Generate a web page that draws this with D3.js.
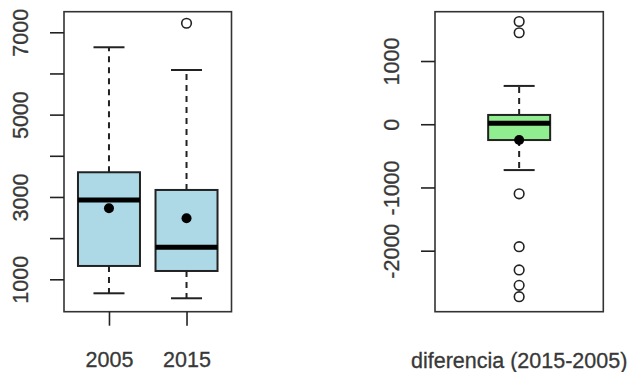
<!DOCTYPE html>
<html>
<head>
<meta charset="utf-8">
<script src="https://cdn.jsdelivr.net/npm/d3@7"></script>
<style>
  html, body { margin: 0; padding: 0; background: #fff; }
  svg { display: block; font-family: "Liberation Sans", Arial, sans-serif; }
</style>
</head>
<body>
<svg id="chart" width="628" height="372"></svg>
<script>
// Yearly values: box summary per year
const years       = ["2005", "2015"];
const whiskerLow  = [660, 539];
const q1          = [1324, 1202];
const medians     = [2927, 1778];
const q3          = [3600, 3170];
const whiskerHigh = [6636, 6084];
const means       = [2725, 2482];
const outliers    = [[], [7219]];
const yearTicks   = [1000, 2000, 3000, 4000, 5000, 6000, 7000];

// Difference 2015 - 2005
const diffLabel       = "diferencia (2015-2005)";
const diffWhiskerLow  = -725;
const diffQ1          = -250;
const diffMedian      = 15;
const diffQ3          = 147;
const diffWhiskerHigh = 606;
const diffMean        = -248;
const diffOutliers    = [1625, 1447, -1100, -1937, -2305, -2548, -2728];
const diffTicks       = [-2000, -1000, 0, 1000];

const svg = d3.select("#chart");
const plotTop = 11.7, plotBottom = 311.7;
const boxW = 62;
const tickLen = 14;
const fontSize = "21.5px";
const textCol = "#383838";
const lineCol = "#222";

function styleText(sel) {
  sel.attr("fill", textCol)
    .attr("stroke", textCol).attr("stroke-width", 0.3)
    .style("font-size", fontSize)
    .style("font-family", "'Liberation Sans', Arial, sans-serif");
}

function drawBox(g, cx, s, d, fill) {
  // dashed whiskers
  g.append("line").attr("x1", cx).attr("x2", cx)
    .attr("y1", s(d.q3)).attr("y2", s(d.hi))
    .attr("stroke", lineCol).attr("stroke-width", 2).attr("stroke-dasharray", "6,5");
  g.append("line").attr("x1", cx).attr("x2", cx)
    .attr("y1", s(d.q1)).attr("y2", s(d.lo))
    .attr("stroke", lineCol).attr("stroke-width", 2).attr("stroke-dasharray", "6,5");
  // staples
  [d.hi, d.lo].forEach(v => {
    g.append("line").attr("x1", cx - boxW / 4).attr("x2", cx + boxW / 4)
      .attr("y1", s(v)).attr("y2", s(v))
      .attr("stroke", lineCol).attr("stroke-width", 2);
  });
  // box
  g.append("rect").attr("x", cx - boxW / 2).attr("width", boxW)
    .attr("y", s(d.q3)).attr("height", s(d.q1) - s(d.q3))
    .attr("fill", fill).attr("stroke", lineCol).attr("stroke-width", 2);
  // median
  g.append("line").attr("x1", cx - boxW / 2).attr("x2", cx + boxW / 2)
    .attr("y1", s(d.med)).attr("y2", s(d.med))
    .attr("stroke", "#000").attr("stroke-width", 5);
  // outliers
  d.out.forEach(v => {
    g.append("circle").attr("cx", cx).attr("cy", s(v)).attr("r", 4.8)
      .attr("fill", "none").attr("stroke", lineCol).attr("stroke-width", 1.6);
  });
  // mean
  g.append("circle").attr("cx", cx).attr("cy", s(d.mean)).attr("r", 5)
    .attr("fill", "#000");
}

function yAxis(g, left, s, ticks, fmt) {
  const ax = g.append("g").attr("transform", `translate(${left},0)`)
    .call(d3.axisLeft(s).tickValues(ticks).tickSize(tickLen).tickFormat(fmt));
  ax.select(".domain").remove();
  ax.selectAll(".tick line").attr("stroke", lineCol).attr("stroke-width", 1.6);
  ax.selectAll(".tick text")
    .attr("x", null).attr("dy", null)
    .attr("transform", "rotate(-90)")
    .attr("y", -36)
    .attr("text-anchor", "middle")
    .call(styleText);
}

function frame(g, x0, x1) {
  g.append("rect").attr("x", x0).attr("y", plotTop)
    .attr("width", x1 - x0).attr("height", plotBottom - plotTop)
    .attr("fill", "none").attr("stroke", "#333").attr("stroke-width", 1.6);
}

// ---- Left panel: 2005 vs 2015 ----
const L0 = 64, L1 = 231.5;
const yL = d3.scaleLinear().domain([213, 7500]).range([plotBottom, plotTop]);
const xL = d3.scalePoint().domain(years).range([L0, L1]).padding(0.58);
const gL = svg.append("g");

years.forEach((yr, i) => {
  drawBox(gL, xL(yr), yL, {
    lo: whiskerLow[i], q1: q1[i], med: medians[i], q3: q3[i],
    hi: whiskerHigh[i], mean: means[i], out: outliers[i]
  }, "#ADD8E6");
});
frame(gL, L0, L1);
yAxis(gL, L0, yL, yearTicks, d => (d % 2000 === 1000 ? String(d) : ""));

const xAx = gL.append("g").attr("transform", `translate(0,${plotBottom})`)
  .call(d3.axisBottom(xL).tickSize(tickLen).tickPadding(0));
xAx.select(".domain").remove();
xAx.selectAll(".tick line").attr("stroke", lineCol).attr("stroke-width", 1.6);
xAx.selectAll(".tick text")
  .attr("dy", null).attr("y", 367.5 - plotBottom)
  .call(styleText);

// ---- Right panel: difference ----
const R0 = 435, R1 = 603.3;
const yR = d3.scaleLinear().domain([-2965, 1780]).range([plotBottom, plotTop]);
const xR = d3.scalePoint().domain([diffLabel]).range([R0, R1]).padding(0.5);
const gR = svg.append("g");

drawBox(gR, xR(diffLabel), yR, {
  lo: diffWhiskerLow, q1: diffQ1, med: diffMedian, q3: diffQ3,
  hi: diffWhiskerHigh, mean: diffMean, out: diffOutliers
}, "#90EE90");
frame(gR, R0, R1);
yAxis(gR, R0, yR, diffTicks, d => String(d));

gR.append("text")
  .attr("x", xR(diffLabel)).attr("y", 367.5)
  .attr("text-anchor", "middle")
  .call(styleText)
  .text(diffLabel);
</script>
</body>
</html>
